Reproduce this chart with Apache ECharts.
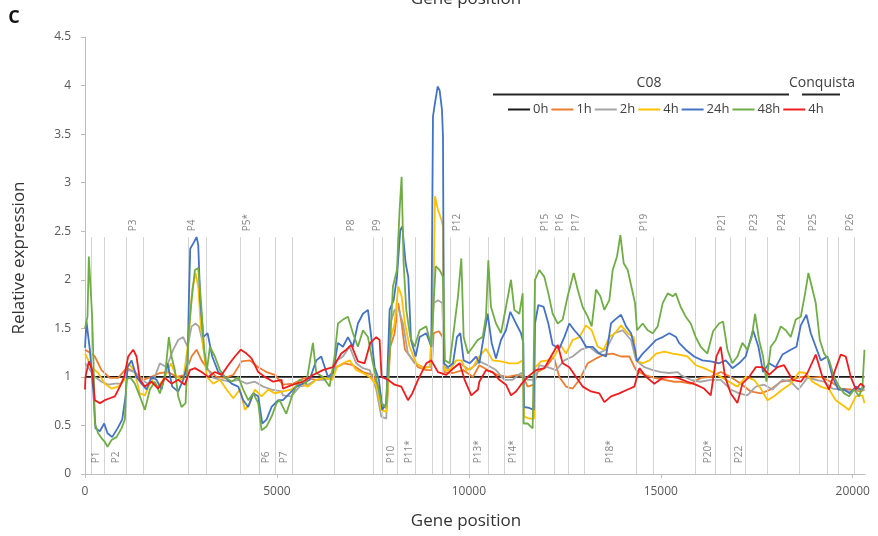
<!DOCTYPE html>
<html><head><meta charset="utf-8">
<script src="https://cdn.jsdelivr.net/npm/echarts@6/dist/echarts.min.js"></script>
<style>html,body{margin:0;padding:0;background:#fff}#c{width:878px;height:536px}</style>
</head><body><div id="c"></div>
<script>
// Gene positions (bp) and relative expression values
const xTicks = [0, 5000, 10000, 15000, 20000];
const regionBounds = [169,508,1081,1524,2697,3166,4052,4547,4964,5407,6502,7518,7753,8144,8613,9056,9317,9525,10020,10515,10932,11401,11740,12235,12600,13017,14372,14815,15910,16431,16822,17213,17786,18620,19324,19636,20027];
const topLabels = [["P3",1264],["P4",2801],["P5*",4235],["P8",6945],["P9",7623],["P12",9707],["P15",11975],["P16",12391],["P17",12808],["P19",14554],["P21",16587],["P23",17421],["P24",18151],["P25",18959],["P26",19923]];
const bottomLabels = [["P1",300],["P2",821],["P6",4730],["P7",5199],["P10",7987],["P11*",8457],["P13*",10255],["P14*",11167],["P18*",13669],["P20*",16223],["P22",17030]];

const s0h = [[0,1],[20306,1]];

const s1h = [[0,1.28],[83,1.26],[256,1.21],[430,1.07],[647,0.99],[865,0.99],[1082,1.09],[1299,1.05],[1516,0.97],[1733,1.0],[1950,1.04],[2168,1.05],[2385,1.0],[2602,1.02],[2776,1.21],[2906,1.28],[3037,1.17],[3210,1.07],[3428,1.0],[3644,0.99],[3862,1.02],[4079,1.16],[4296,1.17],[4513,1.1],[4730,1.05],[4947,1.02],[5156,0.92],[5416,0.93],[5720,0.99],[6025,0.97],[6329,0.99],[6546,1.1],[6763,1.14],[6980,1.12],[7241,1.05],[7501,1.02],[7675,0.87],[7762,0.69],[7866,0.68],[7953,1.31],[8066,1.45],[8161,1.76],[8248,1.55],[8335,1.28],[8474,1.21],[8674,1.1],[8891,1.07],[9030,1.07],[9082,1.45],[9221,1.47],[9317,1.41],[9360,1.05],[9586,1.04],[9847,1.07],[10107,1.0],[10272,1.12],[10490,1.07],[10750,1.02],[11011,1.0],[11272,1.02],[11419,1.0],[11532,0.9],[11688,0.92],[11793,1.05],[12010,1.1],[12210,1.21],[12357,1.0],[12531,0.9],[12705,0.88],[12879,0.97],[13096,1.14],[13313,1.19],[13530,1.23],[13747,1.24],[13964,1.21],[14181,1.21],[14355,1.07],[14573,1.02],[14833,0.99],[15094,0.97],[15354,0.95],[15519,0.95],[15780,0.93],[16041,0.99],[16301,1.0],[16562,1.05],[16822,1.0],[17083,0.93],[17344,0.85],[17604,0.83],[17865,0.87],[18125,0.95],[18386,0.97],[18647,1.0],[18907,0.99],[19168,1.0],[19429,0.95],[19689,0.88],[19950,0.87],[20211,0.85],[20306,0.87]];

const s2h = [[0,1.14],[83,1.1],[256,1.0],[430,0.95],[604,0.92],[778,0.93],[951,0.93],[1125,1.07],[1299,1.05],[1473,0.97],[1646,0.93],[1820,1.0],[1950,1.14],[2124,1.1],[2298,1.28],[2428,1.38],[2559,1.41],[2672,1.31],[2776,1.52],[2880,1.55],[2967,1.52],[3054,1.38],[3167,1.1],[3341,0.99],[3558,0.97],[3775,0.95],[3992,0.97],[4209,0.93],[4426,0.95],[4643,0.9],[4860,0.87],[5121,0.85],[5156,0.81],[5373,0.8],[5590,0.9],[5807,0.92],[6025,0.97],[6242,0.97],[6442,1.0],[6563,1.17],[6720,1.21],[6893,1.31],[7067,1.14],[7241,1.09],[7415,1.07],[7588,0.87],[7719,0.59],[7849,0.57],[7953,1.55],[8066,1.69],[8179,1.69],[8283,1.55],[8414,1.24],[8587,1.14],[8804,1.1],[9022,1.1],[9082,1.76],[9195,1.79],[9308,1.76],[9360,1.1],[9543,1.07],[9760,1.14],[10020,1.07],[10272,1.16],[10490,1.12],[10707,1.07],[10924,0.97],[11141,0.97],[11358,1.04],[11532,0.97],[11706,0.97],[11836,1.12],[12053,1.1],[12270,1.07],[12487,1.17],[12705,1.21],[12922,1.28],[13139,1.31],[13356,1.24],[13573,1.28],[13791,1.45],[14008,1.48],[14225,1.38],[14355,1.17],[14573,1.1],[14790,1.07],[15007,1.05],[15224,1.04],[15441,1.05],[15519,1.02],[15780,0.97],[16041,0.95],[16301,0.97],[16562,0.97],[16822,0.87],[17040,0.83],[17257,0.81],[17474,0.9],[17691,0.92],[17908,0.87],[18169,0.97],[18386,0.95],[18586,0.87],[18820,0.99],[19037,0.97],[19255,0.95],[19472,0.88],[19689,0.87],[19906,0.85],[20124,0.87],[20306,0.87]];

const s4h = [[0,1.24],[39,1.21],[170,1.1],[343,1.04],[517,0.93],[691,0.88],[865,0.9],[1021,0.97],[1125,1.14],[1282,1.07],[1429,0.83],[1560,0.81],[1733,0.97],[1907,0.9],[2081,1.0],[2237,1.14],[2385,1.0],[2559,0.97],[2689,1.35],[2793,1.9],[2880,2.07],[2950,1.93],[3019,1.52],[3089,1.28],[3176,1.0],[3341,0.93],[3514,0.97],[3688,0.87],[3862,0.78],[4035,0.87],[4166,0.66],[4296,0.73],[4426,0.87],[4600,0.8],[4774,0.87],[4947,0.83],[5156,0.85],[5373,0.87],[5590,0.93],[5807,0.9],[6025,0.97],[6242,0.99],[6442,0.97],[6563,1.1],[6720,1.14],[6893,1.17],[7067,1.07],[7241,1.04],[7415,1.0],[7588,0.92],[7719,0.66],[7849,0.64],[7953,1.38],[8066,1.55],[8161,1.93],[8248,1.83],[8335,1.55],[8457,1.31],[8630,1.14],[8804,1.09],[8978,1.1],[9074,1.76],[9117,2.86],[9195,2.72],[9282,2.62],[9326,2.55],[9360,1.07],[9499,1.07],[9673,1.17],[9804,1.17],[9934,1.07],[10107,1.1],[10272,1.21],[10446,1.29],[10620,1.17],[10837,1.16],[11054,1.14],[11272,1.14],[11410,1.17],[11437,0.59],[11576,0.57],[11697,0.57],[11732,1.1],[11880,1.16],[12053,1.17],[12227,1.21],[12383,1.33],[12531,1.24],[12705,1.38],[12879,1.41],[13052,1.53],[13200,1.48],[13356,1.31],[13513,1.28],[13660,1.41],[13808,1.45],[13964,1.53],[14138,1.45],[14294,1.41],[14364,1.17],[14529,1.14],[14703,1.17],[14877,1.24],[15094,1.26],[15311,1.24],[15476,1.23],[15693,1.21],[15910,1.12],[16127,1.09],[16345,1.05],[16562,1.0],[16779,0.95],[16996,0.9],[17213,1.0],[17430,0.97],[17604,0.88],[17778,0.76],[17952,0.8],[18169,0.87],[18386,0.93],[18603,1.05],[18777,1.04],[18951,0.95],[19168,0.9],[19385,0.87],[19559,0.76],[19732,0.71],[19906,0.66],[20080,0.8],[20254,0.81],[20306,0.73]];

const s24h = [[0,1.3],[39,1.57],[126,1.28],[213,0.87],[274,0.47],[387,0.44],[500,0.52],[587,0.42],[708,0.38],[847,0.47],[969,0.56],[1056,0.8],[1108,1.1],[1212,1.17],[1342,1.0],[1473,0.93],[1603,0.87],[1733,1.0],[1864,0.97],[1994,0.87],[2150,1.14],[2272,0.9],[2428,0.85],[2559,0.97],[2672,1.14],[2706,1.79],[2741,2.32],[2828,2.38],[2906,2.44],[2950,2.36],[3002,1.79],[3080,1.41],[3193,1.45],[3315,1.21],[3471,1.05],[3644,1.0],[3818,0.93],[3992,0.9],[4122,0.76],[4252,0.69],[4383,0.83],[4513,0.8],[4617,0.52],[4730,0.56],[4860,0.69],[5034,0.76],[5156,0.76],[5330,0.83],[5503,0.9],[5677,0.93],[5851,0.97],[6025,1.17],[6155,1.21],[6329,1.0],[6459,1.04],[6589,1.35],[6720,1.31],[6850,1.41],[6980,1.31],[7110,1.55],[7241,1.65],[7371,1.69],[7458,1.41],[7545,1.1],[7658,0.97],[7745,0.66],[7849,0.73],[7936,1.69],[8040,1.79],[8127,2.03],[8213,2.51],[8266,2.55],[8353,2.17],[8422,2.03],[8492,1.38],[8613,1.21],[8717,1.41],[8891,1.45],[9022,1.31],[9065,3.68],[9117,3.82],[9187,3.99],[9239,3.95],[9300,3.75],[9326,3.47],[9352,1.14],[9456,1.1],[9586,1.14],[9690,1.41],[9777,1.45],[9864,1.17],[10020,1.14],[10194,1.21],[10272,1.14],[10403,1.45],[10490,1.65],[10594,1.35],[10707,1.19],[10837,1.38],[10967,1.48],[11080,1.67],[11228,1.55],[11358,1.45],[11419,1.35],[11437,0.69],[11576,0.68],[11688,0.66],[11723,1.55],[11810,1.74],[11949,1.72],[12071,1.55],[12183,1.33],[12357,1.29],[12487,1.41],[12618,1.55],[12748,1.48],[12905,1.41],[13052,1.31],[13226,1.31],[13400,1.24],[13573,1.21],[13704,1.55],[13808,1.59],[13964,1.64],[14095,1.52],[14225,1.45],[14329,1.28],[14381,1.16],[14529,1.24],[14703,1.31],[14877,1.38],[15050,1.41],[15224,1.45],[15398,1.41],[15476,1.35],[15650,1.28],[15867,1.21],[16084,1.17],[16301,1.16],[16518,1.14],[16692,1.17],[16866,1.09],[17040,1.14],[17213,1.21],[17404,1.48],[17543,1.31],[17665,1.05],[17821,1.14],[17995,1.1],[18169,1.23],[18386,1.28],[18534,1.31],[18647,1.53],[18794,1.64],[18907,1.45],[19037,1.31],[19168,1.17],[19342,1.21],[19472,1.0],[19628,0.87],[19776,0.87],[19924,0.83],[20080,0.9],[20219,0.87],[20306,0.9]];

const s48h = [[0,1.5],[65,1.62],[100,2.24],[152,2.25],[187,1.62],[222,1.14],[256,0.52],[343,0.42],[430,0.37],[517,0.33],[587,0.28],[691,0.35],[821,0.38],[951,0.47],[1038,0.56],[1082,0.97],[1169,1.0],[1299,0.93],[1429,0.8],[1560,0.66],[1690,0.87],[1820,0.95],[1950,0.83],[2081,1.0],[2185,1.41],[2254,1.21],[2341,1.07],[2428,0.8],[2515,0.69],[2620,0.73],[2706,1.48],[2776,1.79],[2863,2.1],[2950,2.12],[3019,1.79],[3106,1.28],[3176,1.07],[3254,1.31],[3384,1.21],[3514,1.07],[3644,1.0],[3818,0.95],[3992,1.0],[4122,0.87],[4252,0.76],[4383,0.83],[4513,0.73],[4600,0.45],[4730,0.49],[4860,0.59],[4991,0.73],[5069,0.76],[5243,0.62],[5416,0.83],[5590,0.97],[5764,0.93],[5938,1.35],[6025,1.04],[6198,1.0],[6372,0.9],[6502,1.21],[6589,1.55],[6720,1.59],[6850,1.62],[6980,1.45],[7110,1.31],[7241,1.48],[7371,1.41],[7501,1.14],[7632,0.9],[7719,0.73],[7831,0.69],[7936,1.24],[8022,1.93],[8127,2.1],[8196,2.72],[8248,3.06],[8300,2.17],[8370,1.69],[8474,1.41],[8587,1.31],[8717,1.48],[8891,1.52],[9022,1.31],[9082,1.76],[9135,2.14],[9239,2.1],[9326,2.03],[9378,1.17],[9499,1.14],[9630,1.55],[9717,1.83],[9804,2.22],[9864,1.41],[9977,1.24],[10107,1.31],[10229,1.38],[10359,1.41],[10446,1.62],[10507,2.2],[10576,1.72],[10707,1.55],[10837,1.45],[10967,1.72],[11098,2.0],[11185,1.69],[11315,1.65],[11402,1.86],[11428,0.52],[11532,0.52],[11662,0.47],[11723,2.0],[11836,2.1],[11966,2.03],[12071,1.86],[12183,1.65],[12314,1.55],[12444,1.59],[12574,1.83],[12731,2.07],[12835,1.9],[12965,1.72],[13096,1.62],[13200,1.52],[13313,1.9],[13426,1.83],[13530,1.69],[13660,1.79],[13747,2.1],[13860,2.24],[13947,2.46],[14034,2.17],[14138,2.1],[14251,1.9],[14329,1.76],[14381,1.48],[14529,1.55],[14659,1.48],[14790,1.45],[14920,1.52],[15050,1.76],[15181,1.86],[15311,1.83],[15389,1.86],[15519,1.72],[15650,1.62],[15780,1.55],[15910,1.41],[16041,1.31],[16214,1.24],[16362,1.47],[16518,1.55],[16623,1.57],[16736,1.28],[16866,1.14],[16996,1.21],[17126,1.35],[17257,1.28],[17370,1.41],[17456,1.65],[17561,1.38],[17665,1.21],[17752,0.95],[17865,1.31],[17995,1.38],[18125,1.52],[18256,1.48],[18386,1.41],[18516,1.59],[18647,1.62],[18760,1.86],[18846,2.07],[18933,1.93],[19037,1.76],[19142,1.38],[19255,1.24],[19385,1.17],[19515,1.0],[19646,0.9],[19776,0.83],[19906,0.8],[20037,0.87],[20167,0.8],[20254,0.9],[20306,1.28]];

const sConq4h = [[0,0.87],[13,1.0],[100,1.16],[187,1.07],[256,0.76],[387,0.73],[517,0.76],[647,0.78],[778,0.8],[908,0.9],[1021,1.0],[1125,1.21],[1256,1.28],[1342,1.21],[1429,0.97],[1560,0.9],[1733,0.95],[1907,0.88],[2081,0.99],[2254,0.93],[2428,0.97],[2602,0.92],[2732,1.07],[2863,1.09],[3037,1.05],[3210,1.0],[3384,1.05],[3558,1.02],[3731,1.12],[3905,1.21],[4061,1.28],[4209,1.24],[4339,1.19],[4513,1.05],[4687,1.0],[4904,0.95],[5121,0.97],[5156,0.88],[5416,0.92],[5677,0.95],[5938,1.02],[6198,1.07],[6459,1.1],[6676,1.24],[6806,1.28],[6937,1.33],[7110,1.16],[7284,1.14],[7432,1.35],[7588,1.41],[7675,1.38],[7727,1.0],[7892,0.97],[8066,0.92],[8240,0.9],[8414,0.76],[8526,0.83],[8674,0.97],[8891,1.14],[9022,1.17],[9195,1.05],[9412,1.02],[9630,1.1],[9760,1.14],[9890,0.97],[10064,0.81],[10238,0.87],[10272,0.95],[10446,1.07],[10620,1.05],[10794,0.97],[10967,0.92],[11098,0.81],[11228,0.85],[11358,0.92],[11532,1.0],[11749,1.07],[11966,1.09],[12140,1.21],[12314,1.33],[12444,1.14],[12618,1.1],[12792,1.0],[12965,0.9],[13183,0.85],[13400,0.83],[13530,0.74],[13704,0.8],[13921,0.83],[14138,0.87],[14312,0.9],[14442,1.09],[14616,1.0],[14833,0.93],[15050,0.99],[15267,1.0],[15441,0.99],[15476,1.0],[15693,0.95],[15910,0.92],[16127,0.88],[16301,0.81],[16449,1.21],[16562,1.31],[16675,1.0],[16822,0.83],[16996,0.73],[17126,0.93],[17300,1.0],[17474,1.1],[17647,1.1],[17821,1.02],[18038,1.1],[18212,1.12],[18430,0.97],[18647,0.95],[18820,1.04],[19037,1.23],[19211,1.0],[19385,0.87],[19541,1.07],[19689,1.23],[19819,1.21],[19950,1.0],[20080,0.87],[20211,0.93],[20306,0.9]];

const seriesDefs = [
  ["0h", s0h, "#1a1a1a"],
  ["1h", s1h, "#ED7D31"],
  ["2h", s2h, "#A5A5A5"],
  ["4h", s4h, "#FFC000"],
  ["24h", s24h, "#4472C4"],
  ["48h", s48h, "#70AD47"],
  ["Conquista 4h", sConq4h, "#EE1C1C"]
];

const chart = echarts.init(document.getElementById('c'), null, {renderer:'canvas'});
const FONT = 'Open Sans';
const series = [];
series.push({
  type:'line', name:'bounds', data:[], silent:true, z:1,
  markLine:{silent:true, symbol:['none','none'], animation:false,
    label:{show:false}, lineStyle:{color:'#d4d4d4', width:1, type:'solid'},
    data: regionBounds.map(b => [{coord:[b,0]},{coord:[b,2.44]}])}
});
seriesDefs.forEach(([n,d,c],i) => {
  series.push({type:'line', name:n, data:d, showSymbol:false, symbol:'none',
    lineStyle:{width:1.8, color:c}, itemStyle:{color:c}, z:2+i, animation:false});
});
const lblStyle = {show:true, position:'inside', rotate:90, align:'left', verticalAlign:'middle',
  fontFamily:FONT, fontSize:10, color:'#666', formatter:p=>p.data[2]};
series.push({type:'scatter', name:'topL', symbolSize:0, silent:true, z:20,
  data: topLabels.map(t=>[t[1],2.5,t[0]]), label:lblStyle});
series.push({type:'scatter', name:'botL', symbolSize:0, silent:true, z:20,
  data: bottomLabels.map(t=>[t[1],0.11,t[0]]), label:lblStyle});

chart.setOption({
  animation:false,
  backgroundColor:'#fff',
  grid:{left:85, right:13, top:37, bottom:62, containLabel:false},
  xAxis:{type:'value', min:0, max:20320, interval:5000,
    axisLine:{show:true, lineStyle:{color:'#bdbdbd', width:1}},
    axisTick:{show:true, length:4, lineStyle:{color:'#bdbdbd'}},
    axisLabel:{color:'#595959', fontFamily:FONT, fontSize:12, margin:12, showMaxLabel:false,
      formatter:v=>String(v)},
    splitLine:{show:false}},
  yAxis:{type:'value', min:0, max:4.5, interval:0.5,
    axisLine:{show:true, lineStyle:{color:'#bdbdbd', width:1}},
    axisTick:{show:true, length:4, lineStyle:{color:'#bdbdbd'}},
    axisLabel:{color:'#595959', fontFamily:FONT, fontSize:12, margin:14},
    splitLine:{show:false}},
  legend:{data:seriesDefs.map(s=>s[0]), left:503, top:98, orient:'horizontal',
    itemWidth:22, itemHeight:2, itemGap:3, icon:'rect',
    formatter:n=>n.replace('Conquista ',''),
    textStyle:{fontFamily:FONT, fontSize:13, color:'#404040', padding:[0,0,0,-2]}},
  graphic:[
    {type:'text', style:{text:'Gene position', x:466, y:-1, textAlign:'center', textVerticalAlign:'middle', font:'17px "Open Sans"', fill:'#333'}},
    {type:'text', style:{text:'C', x:14, y:18, textAlign:'center', textVerticalAlign:'middle', font:'bold 18px "Open Sans"', fill:'#111'}},
    {type:'text', style:{text:'Relative expression', x:0, y:0, textAlign:'center', textVerticalAlign:'middle', font:'17px "Open Sans"', fill:'#333'}, x:19, y:258, rotation:Math.PI/2},
    {type:'text', style:{text:'Gene position', x:466, y:521, textAlign:'center', textVerticalAlign:'middle', font:'17px "Open Sans"', fill:'#333'}},
    {type:'text', style:{text:'C08', x:649, y:83, textAlign:'center', textVerticalAlign:'middle', font:'14px "Open Sans"', fill:'#404040'}},
    {type:'text', style:{text:'Conquista', x:789, y:83, textAlign:'left', textVerticalAlign:'middle', font:'14px "Open Sans"', fill:'#404040'}},
    {type:'line', shape:{x1:493, y1:94.5, x2:789, y2:94.5}, style:{stroke:'#262626', lineWidth:2}},
    {type:'line', shape:{x1:802, y1:94.5, x2:840, y2:94.5}, style:{stroke:'#262626', lineWidth:2}}
  ],
  series: series
});
</script></body></html>
